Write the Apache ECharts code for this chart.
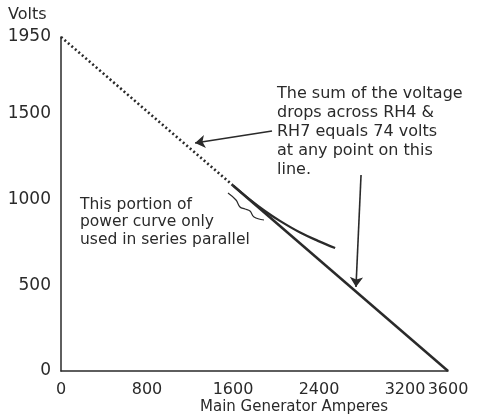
<!DOCTYPE html>
<html><head><meta charset="utf-8">
<script src="https://cdn.jsdelivr.net/npm/echarts@6/dist/echarts.min.js"></script>
<style>html,body{margin:0;padding:0;background:#fff}#c{width:478px;height:417px}</style>
</head><body><div id="c"></div>
<script>
// Data
const xTicks = [0, 800, 1600, 2400, 3200, 3600];
const yTicks = [0, 500, 1000, 1500, 1950];
const dottedLine = [[0, 1950], [1600, 1083]];
const solidLine = [[1600, 1083], [3600, 0]];
const powerCurve = [[1600, 1083], [1760, 999], [1900, 933], [2040, 875], [2220, 810], [2390, 760], [2550, 718]];
const arrowSum = [[1963, 1401], [1247, 1331]];
const arrowLine = [[2791, 1144], [2744, 490]];

const ink = '#2a2a2a';
const font = 'DejaVu Sans';
const chart = echarts.init(document.getElementById('c'), null, {renderer: 'canvas'});
chart.setOption({
  backgroundColor: '#ffffff',
  animation: false,
  grid: {left: 61, right: 30, top: 37, bottom: 46},
  xAxis: {
    type: 'value', min: 0, max: 3600,
    axisLine: {show: true, lineStyle: {color: ink, width: 1.5}},
    axisTick: {show: false},
    splitLine: {show: false},
    axisLabel: {customValues: xTicks, formatter: v => String(v), showMaxLabel: true, hideOverlap: false,
      color: ink, fontFamily: font, fontSize: 16, margin: 11}
  },
  yAxis: {
    type: 'value', min: 0, max: 1950,
    axisLine: {show: true, lineStyle: {color: ink, width: 1.5}},
    axisTick: {show: false},
    splitLine: {show: false},
    axisLabel: {customValues: yTicks, formatter: v => String(v), showMaxLabel: true, hideOverlap: false,
      color: ink, fontFamily: font, fontSize: 17, margin: 10}
  },
  series: [
    {type: 'line', data: dottedLine, symbol: 'none', lineStyle: {color: ink, width: 2.6, type: [2, 2.6]}},
    {type: 'line', data: solidLine, symbol: 'none', lineStyle: {color: ink, width: 2.5}},
    {type: 'line', data: powerCurve, symbol: 'none', smooth: 0.4, lineStyle: {color: ink, width: 2.3}},
    {type: 'lines', coordinateSystem: 'cartesian2d', silent: true,
     symbol: ['none', 'arrow'], symbolSize: [6, 10],
     lineStyle: {color: ink, width: 1.6, opacity: 1},
     data: [{coords: arrowSum}, {coords: arrowLine}]}
  ],
  graphic: [
    {type: 'text', left: 8, top: 7, style: {text: 'Volts', font: '16px "DejaVu Sans"', fill: ink}},
    {type: 'text', left: 200, top: 400, style: {text: 'Main Generator Amperes', font: '15px "DejaVu Sans"', fill: ink}},
    {type: 'text', left: 277, top: 84, style: {text: 'The sum of the voltage\ndrops across RH4 &\nRH7 equals 74 volts\nat any point on this\nline.', font: '16px "DejaVu Sans"', lineHeight: 19, fill: ink}},
    {type: 'text', left: 80, top: 196, style: {text: 'This portion of\npower curve only\nused in series parallel', font: '15.5px "DejaVu Sans"', lineHeight: 17.5, fill: ink}},
    {type: 'polyline', shape: {points: [[228,193],[236,200],[240,207],[245,209],[250,211],[254,217],[264,220]], smooth: 0.4},
     style: {stroke: ink, lineWidth: 1.2, fill: null}}
  ]
});
</script></body></html>
